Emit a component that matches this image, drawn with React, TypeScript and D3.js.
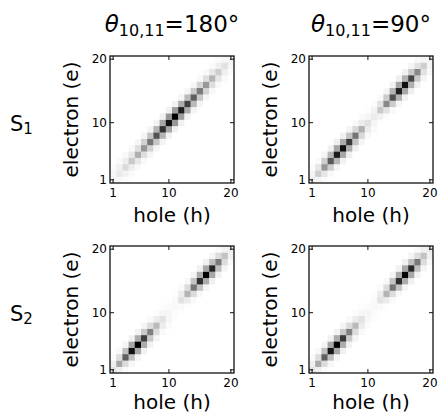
import * as d3 from "d3";

// cell index 1..20 along hole (h) and electron (e)
const sites = d3.range(1, 21);
const tickValues = [1, 10, 20];

const colTitles = ["180°", "90°"];
const rowLabels = ["1", "2"];

// intensity on the diagonal (h = e)
const diagS1a = [0.08, 0.16, 0.24, 0.32, 0.42, 0.5, 0.62, 0.74, 0.84, 0.94, 1.0, 0.9, 0.8, 0.7, 0.6, 0.5, 0.4, 0.3, 0.2, 0.1];
const diagS1b = [0.12, 0.3, 0.5, 0.72, 0.9, 0.95, 0.82, 0.62, 0.42, 0.2, 0.14, 0.32, 0.55, 0.75, 0.9, 0.95, 0.78, 0.55, 0.3, 0.1];
const diagS2a = [0.2, 0.45, 0.7, 0.95, 1.0, 0.8, 0.58, 0.38, 0.2, 0.07, 0.06, 0.2, 0.4, 0.62, 0.85, 1.0, 0.88, 0.6, 0.35, 0.14];
const diagS2b = [0.2, 0.44, 0.7, 0.93, 1.0, 0.82, 0.58, 0.38, 0.2, 0.07, 0.06, 0.2, 0.4, 0.62, 0.86, 1.0, 0.87, 0.6, 0.35, 0.14];

// one step off the diagonal, |h - e| = 1 (index = min(h, e) - 1)
const nearS1a = [0.06, 0.1, 0.13, 0.17, 0.22, 0.28, 0.34, 0.4, 0.45, 0.5, 0.48, 0.43, 0.38, 0.32, 0.27, 0.22, 0.17, 0.12, 0.07];
const nearS1b = [0.09, 0.18, 0.3, 0.39, 0.45, 0.43, 0.34, 0.25, 0.15, 0.08, 0.1, 0.2, 0.31, 0.4, 0.45, 0.41, 0.32, 0.2, 0.09];
const nearS2a = [0.12, 0.23, 0.36, 0.45, 0.43, 0.32, 0.23, 0.14, 0.07, 0.03, 0.05, 0.14, 0.23, 0.34, 0.43, 0.45, 0.36, 0.23, 0.11];
const nearS2b = [0.12, 0.23, 0.36, 0.45, 0.43, 0.32, 0.23, 0.14, 0.07, 0.03, 0.05, 0.14, 0.23, 0.34, 0.43, 0.45, 0.36, 0.23, 0.11];

// two steps off the diagonal, |h - e| = 2
const farS1a = [0.03, 0.04, 0.05, 0.06, 0.07, 0.08, 0.09, 0.1, 0.11, 0.11, 0.1, 0.09, 0.08, 0.07, 0.06, 0.05, 0.04, 0.03];
const farS1b = [0.03, 0.05, 0.08, 0.1, 0.12, 0.11, 0.09, 0.06, 0.04, 0.02, 0.03, 0.05, 0.08, 0.1, 0.12, 0.11, 0.08, 0.05];
const farS2a = [0.04, 0.06, 0.09, 0.11, 0.1, 0.08, 0.05, 0.03, 0.02, 0.01, 0.02, 0.04, 0.06, 0.09, 0.11, 0.11, 0.08, 0.05];
const farS2b = [0.04, 0.06, 0.09, 0.11, 0.1, 0.08, 0.05, 0.03, 0.02, 0.01, 0.02, 0.04, 0.06, 0.09, 0.11, 0.11, 0.08, 0.05];

const panels = [
  { row: 0, col: 0, diag: diagS1a, near: nearS1a, far: farS1a },
  { row: 0, col: 1, diag: diagS1b, near: nearS1b, far: farS1b },
  { row: 1, col: 0, diag: diagS2a, near: nearS2a, far: farS2a },
  { row: 1, col: 1, diag: diagS2b, near: nearS2b, far: farS2b },
];

const colX = [110, 309];
const rowY = [56, 246];
const plotW = 124;
const plotH = 127;
const font = "DejaVu Sans, sans-serif";

const color = d3.scaleSequential(d3.interpolateGreys).domain([0, 1]);

const cellValue = (p, h, e) => {
  const d = Math.abs(h - e);
  const i = Math.min(h, e) - 1;
  if (d === 0) return p.diag[i];
  if (d === 1) return p.near[i];
  if (d === 2) return p.far[i];
  return 0;
};

const Panel = ({ p }) => {
  const x0 = colX[p.col];
  const y0 = rowY[p.row];
  const x = d3.scaleBand().domain(sites).range([x0, x0 + plotW]);
  const y = d3.scaleBand().domain(sites).range([y0 + plotH, y0]);
  const bw = x.bandwidth();
  const bh = y.bandwidth();
  const cells = d3.cross(sites, sites);
  // bottom row label sits a bit higher so the parentheses stay on the page
  const xlabelY = p.row === 0 ? y0 + plotH + 39 : y0 + plotH + 36;

  return (
    <g>
      {cells.map(([h, e]) => (
        <rect
          key={h + "-" + e}
          x={x(h)}
          y={y(e)}
          width={bw + 0.3}
          height={bh + 0.3}
          fill={color(cellValue(p, h, e))}
        />
      ))}
      <rect x={x0} y={y0} width={plotW} height={plotH} fill="none" stroke="#111" strokeWidth={1.3} />
      {tickValues.map((t) => (
        <g key={t} stroke="#111" strokeWidth={1}>
          <line x1={x(t) + bw / 2} x2={x(t) + bw / 2} y1={y0 + plotH} y2={y0 + plotH - 4} />
          <line x1={x(t) + bw / 2} x2={x(t) + bw / 2} y1={y0} y2={y0 + 4} />
          <line x1={x0} x2={x0 + 4} y1={y(t) + bh / 2} y2={y(t) + bh / 2} />
          <line x1={x0 + plotW} x2={x0 + plotW - 4} y1={y(t) + bh / 2} y2={y(t) + bh / 2} />
        </g>
      ))}
      {tickValues.map((t) => (
        <text key={"x" + t} x={x(t) + bw / 2} y={y0 + plotH + 14} fontSize={12} textAnchor="middle" fontFamily={font}>
          {t}
        </text>
      ))}
      {tickValues.map((t) => (
        <text key={"y" + t} x={x0 - 3} y={y(t) + bh / 2} fontSize={12} textAnchor="end" dominantBaseline="central" fontFamily={font}>
          {t}
        </text>
      ))}
      <text x={x0 + plotW / 2} y={xlabelY} fontSize={20} textAnchor="middle" fontFamily={font}>
        hole (h)
      </text>
      <text
        transform={`translate(${x0 - 32},${y0 + plotH / 2}) rotate(-90)`}
        fontSize={20}
        textAnchor="middle"
        fontFamily={font}
      >
        electron (e)
      </text>
    </g>
  );
};

export default function App() {
  return (
    <svg width={440} height={415} style={{ position: "absolute", left: 0, top: 0, background: "#fff" }}>
      {colTitles.map((c, i) => (
        <text key={c} x={colX[i] + plotW / 2} y={32} fontSize={23} textAnchor="middle" fontFamily={font}>
          <tspan fontStyle="italic">θ</tspan>
          <tspan fontSize={16} dy={4}>10,11</tspan>
          <tspan dy={-4}>={c}</tspan>
        </text>
      ))}
      {rowLabels.map((r, i) => (
        <text key={r} x={10} y={rowY[i] + 75} fontSize={21} fontFamily={font}>
          S<tspan fontSize={15} dy={3}>{r}</tspan>
        </text>
      ))}
      {panels.map((p, i) => (
        <Panel key={i} p={p} />
      ))}
    </svg>
  );
}
